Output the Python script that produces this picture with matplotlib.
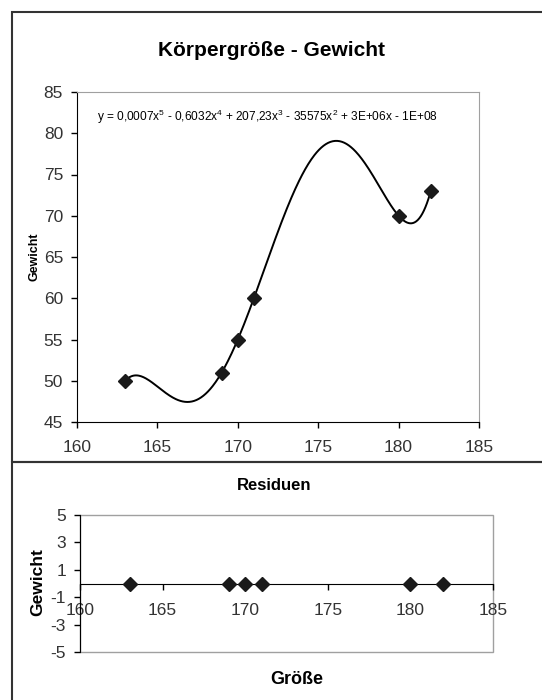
import numpy as np
import matplotlib
matplotlib.use("Agg")
import matplotlib.pyplot as plt
from matplotlib.patches import Rectangle

plt.rcParams['font.family'] = ['Liberation Sans', 'DejaVu Sans']
plt.rcParams['mathtext.fontset'] = 'custom'
plt.rcParams['mathtext.rm'] = 'Liberation Sans'
plt.rcParams['mathtext.it'] = 'Liberation Sans:italic'
plt.rcParams['mathtext.bf'] = 'Liberation Sans:bold'
plt.rcParams['axes.unicode_minus'] = False

# data
groesse = [163, 169, 170, 171, 180, 182]
gewicht = [50, 51, 55, 60, 70, 73]
residuen = [0, 0, 0, 0, 0, 0]
x_ticks = [160, 165, 170, 175, 180, 185]
y_ticks_top = [45, 50, 55, 60, 65, 70, 75, 80, 85]
y_ticks_res = [-5, -3, -1, 1, 3, 5]
gleichung = ('y = 0,0007x$^5$ - 0,6032x$^4$ + 207,23x$^3$ - 35575x$^2$'
             ' + 3E+06x - 1E+08')

fig = plt.figure(figsize=(5.42, 7.0), dpi=100)
W, H = 542.0, 700.0

# panel borders
fig.patches.append(Rectangle((12 / W, 1 - 462 / H), 1.0, (462 - 12) / H,
                             transform=fig.transFigure, fill=False,
                             edgecolor='#333333', linewidth=1.5))
fig.patches.append(Rectangle((12 / W, -0.1), 1.0, 0.1 + 1 - 462 / H,
                             transform=fig.transFigure, fill=False,
                             edgecolor='#333333', linewidth=1.5))

tick_col = '#333333'

# ---- top chart: polynomial trend
ax = fig.add_axes([77 / W, 1 - 422 / H, (479 - 77) / W, (422 - 92) / H])
coef = np.polyfit(np.array(groesse) - 170.0, gewicht, 5)
xs = np.linspace(min(groesse), max(groesse), 400)
ax.plot(xs, np.polyval(coef, xs - 170.0), color='black', lw=1.4, zorder=2)
ax.plot(groesse, gewicht, 'D', color='#1a1a1a', markersize=7, zorder=3)
ax.set_xlim(160, 185)
ax.set_ylim(45, 85)
ax.set_xticks(x_ticks)
ax.set_yticks(y_ticks_top)
for s in ['top', 'right']:
    ax.spines[s].set_color('#a0a0a0')
for s in ['left', 'bottom']:
    ax.spines[s].set_color('black')
ax.tick_params(direction='out', length=4, width=1, labelsize=12.5,
               labelcolor=tick_col, pad=6)
ax.tick_params(axis='x', pad=9)
fig.text(272 / W, 1 - 50 / H, 'Körpergröße - Gewicht', ha='center',
         va='center', fontsize=15, fontweight='bold')
fig.text(97 / W, 1 - 117 / H, gleichung, ha='left', va='center',
         fontsize=8.6)
fig.text(34 / W, 1 - 257 / H, 'Gewicht', rotation=90, ha='center',
         va='center', fontsize=9, fontweight='bold')

# ---- bottom chart: residuals
ax2 = fig.add_axes([80 / W, 1 - 652 / H, (493 - 80) / W, (652 - 515) / H])
ax2.plot(groesse, residuen, 'D', color='#1a1a1a', markersize=7.5, zorder=3,
         clip_on=False)
ax2.set_xlim(160, 185)
ax2.set_ylim(-5, 5)
ax2.set_xticks(x_ticks)
ax2.set_yticks(y_ticks_res)
ax2.patch.set_edgecolor('#a0a0a0')
ax2.patch.set_linewidth(1.0)
ax2.spines['top'].set_visible(False)
ax2.spines['right'].set_visible(False)
ax2.spines['left'].set_color('black')
ax2.spines['bottom'].set_position(('data', 0))
ax2.spines['bottom'].set_color('black')
ax2.tick_params(direction='out', length=4, width=1, labelsize=12.5,
                labelcolor=tick_col, pad=6)
ax2.tick_params(axis='x', pad=10)
fig.text(274 / W, 1 - 485 / H, 'Residuen', ha='center', va='center',
         fontsize=12, fontweight='bold')
fig.text(297 / W, 1 - 680 / H, 'Größe', ha='center', va='center',
         fontsize=13, fontweight='bold')
fig.text(38 / W, 1 - 582 / H, 'Gewicht', rotation=90, ha='center',
         va='center', fontsize=12.5, fontweight='bold')

fig.savefig('out.png', dpi=100)
